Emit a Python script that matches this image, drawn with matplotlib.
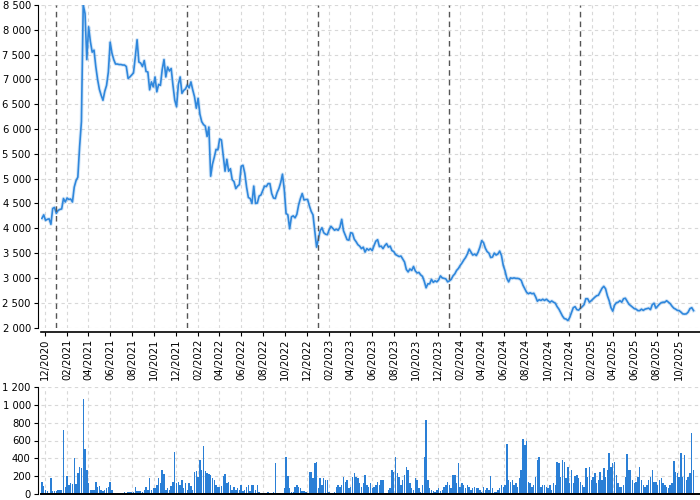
import matplotlib
matplotlib.use("Agg")
import matplotlib.pyplot as plt
import matplotlib.dates as mdates
from matplotlib.ticker import FuncFormatter, MultipleLocator
import pandas as pd

plt.rcParams['font.family'] = ['DejaVu Sans']
plt.rcParams['font.size'] = 7.2

# samples every 5 days
start = "2020-11-23"
price = [
    4200, 4270, 4160, 4180, 4190, 4080, 4400, 4420, 4300, 4360, 4380, 4390, 4600, 4530, 4610, 4580,
    4590, 4530, 4830, 4960, 5030, 5650, 6150, 8500, 8330, 7400, 8060, 7760, 7550, 7590, 7260, 7000,
    6800, 6680, 6580, 6760, 6880, 7150, 7750, 7530, 7400, 7310, 7310, 7300, 7300, 7290, 7290, 7260,
    7020, 7050, 7090, 7130, 7450, 7800, 7350, 7330, 7260, 7380, 7160, 7150, 6790, 6950, 6850, 7050,
    6750, 6900, 6880, 7200, 7400, 7050, 7250, 7170, 7220, 6880, 6580, 6450, 6900, 7050, 6720, 6780,
    6810, 6890, 6830, 6950, 6790, 6650, 6420, 6620, 6300, 6150, 6090, 6060, 5850, 6040, 5050, 5290,
    5430, 5590, 5580, 5800, 5780, 5470, 5150, 5390, 5150, 5200, 4980, 4940, 4800, 4850, 4880, 5250,
    5270, 5110, 4830, 4620, 4600, 4500, 4850, 4500, 4510, 4650, 4670, 4760, 4850, 4840, 4900, 4900,
    4700, 4610, 4600, 4720, 4800, 4920, 5090, 4780, 4300, 4270, 3990, 4230, 4250, 4210, 4280, 4470,
    4600, 4700, 4570, 4580, 4580, 4450, 4340, 4270, 3950, 3620, 3780, 3950, 4010, 3910, 3880, 3870,
    3970, 4040, 4000, 3960, 3980, 3960, 4020, 4180, 3950, 3860, 3770, 3760, 3910, 3900, 3780, 3730,
    3670, 3640, 3590, 3620, 3520, 3590, 3560, 3590, 3550, 3650, 3740, 3770, 3630, 3640, 3590, 3650,
    3690, 3620, 3640, 3550, 3530, 3470, 3450, 3430, 3440, 3380, 3320, 3170, 3120, 3180, 3150, 3230,
    3140, 3100, 3110, 3060, 3030, 2930, 2800, 2880, 2880, 2970, 2910, 2940, 2920, 2960, 3040, 3000,
    2990, 2980, 2920, 2940, 2970, 3040, 3080, 3150, 3190, 3250, 3300, 3360, 3410, 3480, 3580, 3520,
    3460, 3480, 3450, 3520, 3620, 3750, 3710, 3600, 3530, 3500, 3410, 3420, 3500, 3460, 3480, 3540,
    3450, 3250, 3140, 2990, 2920, 3000, 2990, 3000, 2990, 2990, 2980, 2950, 2850, 2780, 2710, 2680,
    2700, 2680, 2690, 2620, 2530, 2560, 2545, 2570, 2545, 2570, 2540, 2510, 2535, 2510, 2490, 2420,
    2370, 2300, 2230, 2180, 2170, 2140, 2200, 2300, 2400, 2420, 2360, 2350, 2390, 2420, 2460, 2580,
    2580, 2510, 2540, 2575, 2610, 2640, 2650, 2720, 2790, 2830, 2780, 2640, 2540, 2400, 2330, 2450,
    2500, 2510, 2540, 2510, 2580, 2590, 2530, 2470, 2440, 2410, 2380, 2370, 2340, 2340, 2370, 2345,
    2370, 2380, 2390, 2360, 2460, 2490, 2390, 2430, 2470, 2500, 2510, 2510, 2540, 2510, 2480, 2430,
    2390, 2370, 2345, 2340, 2310, 2275, 2270, 2275, 2310, 2380, 2400, 2340,
]
volume = [
    130, 90, 40, 30, 15, 175, 30, 30, 35, 40, 45, 50, 720, 80, 200, 100,
    120, 110, 400, 110, 230, 300, 290, 1060, 500, 270, 120, 45, 45, 50, 139, 80,
    90, 40, 37, 40, 64, 75, 139, 45, 15, 15, 12, 15, 12, 15, 22, 15,
    26, 20, 22, 22, 75, 37, 30, 37, 26, 40, 75, 45, 176, 45, 64, 64,
    101, 176, 120, 270, 225, 40, 64, 40, 90, 139, 476, 120, 139, 101, 157, 64,
    120, 45, 120, 90, 45, 251, 259, 195, 383, 270, 540, 263, 232, 220, 214, 176,
    157, 101, 82, 82, 90, 202, 225, 120, 139, 101, 45, 82, 50, 64, 40, 101,
    37, 50, 82, 101, 37, 101, 101, 45, 101, 26, 15, 15, 15, 15, 20, 15,
    15, 20, 345, 15, 15, 15, 15, 64, 412, 200, 64, 26, 26, 82, 101, 82,
    64, 37, 37, 20, 15, 251, 251, 176, 345, 364, 64, 176, 101, 176, 157, 157,
    26, 15, 15, 26, 75, 101, 82, 101, 195, 139, 157, 70, 82, 195, 232, 195,
    176, 120, 82, 120, 214, 101, 82, 120, 64, 82, 101, 139, 101, 157, 157, 15,
    15, 45, 64, 270, 251, 412, 232, 195, 101, 157, 214, 307, 270, 120, 64, 45,
    176, 157, 64, 26, 101, 420, 832, 157, 64, 45, 37, 26, 45, 64, 37, 45,
    82, 101, 139, 101, 64, 214, 214, 120, 345, 82, 120, 101, 64, 101, 82, 45,
    64, 82, 64, 64, 45, 26, 82, 45, 64, 45, 202, 64, 26, 26, 45, 64,
    101, 82, 101, 562, 157, 139, 157, 101, 120, 82, 176, 270, 615, 551, 589, 139,
    120, 82, 101, 195, 383, 420, 82, 101, 101, 82, 64, 101, 45, 120, 101, 364,
    345, 195, 383, 364, 176, 307, 120, 270, 120, 202, 214, 176, 139, 101, 82, 289,
    195, 307, 157, 195, 232, 120, 157, 251, 157, 289, 195, 270, 457, 300, 345, 364,
    214, 120, 82, 82, 101, 195, 450, 270, 270, 157, 120, 139, 195, 307, 157, 101,
    82, 101, 157, 195, 270, 139, 139, 101, 157, 176, 120, 101, 82, 64, 101, 120,
    375, 251, 232, 195, 457, 195, 439, 157, 195, 232, 682, 270,
]
year_marks = ["2021-01-01", "2022-01-01", "2023-01-01", "2024-01-01", "2025-01-01"]

dates = pd.date_range(start, periods=len(price), freq="5D")
blue = "#2f87dc"
grid_kw = dict(color="#d8d8d8", linestyle=(0, (3, 3)), linewidth=0.8)
xmin, xmax = pd.Timestamp("2020-11-19"), pd.Timestamp("2025-11-30")

fig = plt.figure(figsize=(7, 5), dpi=100)
ax = fig.add_axes([40.5 / 700, 1 - 327.5 / 500, 1 - 40.5 / 700, 322.5 / 500])
axv = fig.add_axes([40.5 / 700, 1 - 494 / 500, 1 - 40.5 / 700, 107 / 500])

ax.plot(dates, price, color=blue, lw=2.6, alpha=0.2, solid_joinstyle="round")
ax.plot(dates, price, color=blue, lw=1.2)
for d in year_marks:
    ax.axvline(pd.Timestamp(d), color="#555555", lw=1, linestyle=(0, (4, 3)))

ax.set_ylim(2000, 8500)
ax.yaxis.set_major_locator(MultipleLocator(500))
fmt = FuncFormatter(lambda v, p: f"{v:,.0f}".replace(",", " "))
ax.yaxis.set_major_formatter(fmt)

axv.bar(dates, volume, width=4, color="#2a7fd6", linewidth=0)
axv.set_ylim(0, 1200)
axv.yaxis.set_major_locator(MultipleLocator(200))
axv.yaxis.set_major_formatter(fmt)

for a in (ax, axv):
    a.set_xlim(xmin, xmax)
    a.xaxis.set_major_locator(mdates.MonthLocator(bymonth=[2, 4, 6, 8, 10, 12]))
    a.xaxis.set_major_formatter(mdates.DateFormatter("%m/%Y"))
    a.grid(True, **grid_kw)
    a.set_axisbelow(True)
    a.spines["top"].set_visible(False)
    a.spines["right"].set_visible(False)
    a.spines["left"].set_position(("outward", 2))
    a.tick_params(length=3, width=0.8, pad=2, labelsize=7.2)

ax.spines["bottom"].set_position(("outward", 3))
ax.spines["bottom"].set_linewidth(1.2)
ax.tick_params(axis="x", labelrotation=90)
axv.spines["bottom"].set_linewidth(1.4)
axv.tick_params(axis="x", labelbottom=False, length=0)

fig.savefig("out.png", dpi=100)
